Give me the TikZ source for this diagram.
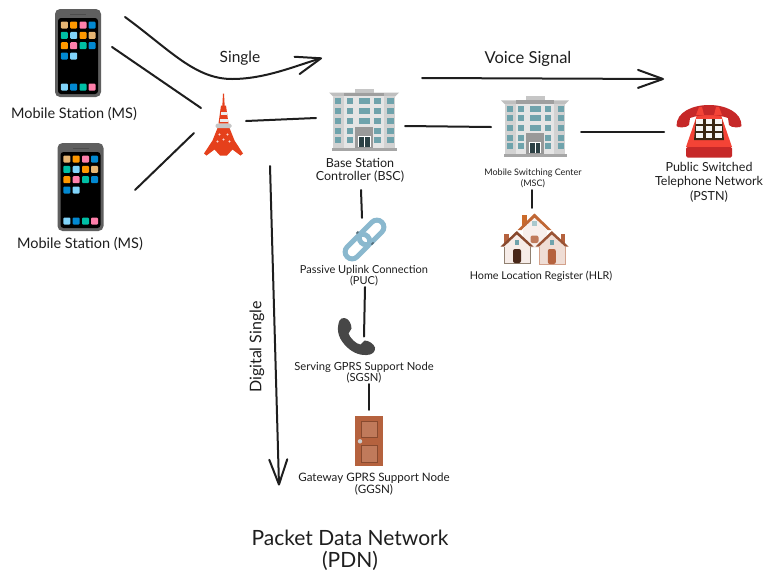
\documentclass[tikz,border=0pt]{standalone}
\usepackage{fontspec}
\setmainfont{Lato}
\usetikzlibrary{arrows.meta,positioning,calc}
\definecolor{inkblack}{HTML}{1E1E1E}
\definecolor{phonegray}{HTML}{5F5F5F}
\definecolor{apptan}{HTML}{E5B574}
\definecolor{apporange}{HTML}{FF9800}
\definecolor{apppink}{HTML}{FF80AB}
\definecolor{appblue}{HTML}{0288D1}
\definecolor{appteal}{HTML}{00BFA5}
\definecolor{applight}{HTML}{81D4FA}
\definecolor{towerred}{HTML}{E5401C}
\definecolor{windowteal}{HTML}{6FA3AC}
\definecolor{chainblue}{HTML}{8AB8CE}
\definecolor{doorbrown}{HTML}{B5623E}
\definecolor{phonered}{HTML}{F44336}
\definecolor{phonedark}{HTML}{C62828}
\tikzset{
  lbl/.style={draw=none,align=center,inner sep=0pt,text=inkblack},
  iconbox/.style={draw=none,inner sep=0pt,minimum width=#1},
  link/.style={draw=inkblack,line width=2pt,line cap=round},
  flow/.style={link,-{Straight Barb[length=25pt,width=18pt,round]}},
  phoneicon/.pic={
    \fill[phonegray,rounded corners=5pt] (-23,-44) rectangle (23,44);
    \fill[black,rounded corners=3pt] (-20,-35) rectangle (20,41);
    \fill[black!70] (-8,-39.5) rectangle (8,-38);
    \foreach \cx/\cy/\cc in {-13.7/-28/apptan,-4.3/-28/apporange,5/-28/apppink,14/-28/appblue,
      -13.7/-17.7/appteal,-4.3/-17.7/applight,5/-17.7/apporange,14/-17.7/apptan,
      -13.7/-7.3/apporange,-4.3/-7.3/apppink,5/-7.3/appteal,14/-7.3/appblue,
      -13.7/3/appblue,-4.3/3/applight,
      -13.7/34/applight,-4.3/34/appblue,5/34/appteal,14/34/apppink}
      \fill[\cc,rounded corners=1pt] (\cx-3.5,\cy-3.5) rectangle (\cx+3.5,\cy+3.5);
  },
  towericon/.pic={
    \fill[towerred] (-0.5,-31) -- (0.5,-31) -- (1.2,-18) -- (-1.2,-18) -- cycle;
    \fill[towerred] (-2.5,-19) -- (2.5,-19) -- (5,-1) -- (-5,-1) -- cycle;
    \fill[white!85!gray] (-3,-13) rectangle (3,-10);
    \fill[white!85!gray] (-4,-6) rectangle (4,-3);
    \fill[towerred] (-6,3.5) -- (6,3.5) -- (11,16) -- (19.5,29) -- (17,31) -- (9,25) -- (3.5,31)
      -- (-3.5,31) -- (-9,25) -- (-17,31) -- (-19.5,29) -- (-11,16) -- (-6,3.5) -- cycle;
    \fill[gray!45,rounded corners=1.5pt] (-8,-1) rectangle (8,3.5);
    \foreach \cx/\cy in {-4/10,4/10,-6/17,6/17,0/15}
      \fill[white!80!towerred] (\cx,\cy) circle (1.1);
  },
  buildingicon/.pic={
    \fill[gray!45] (-9,-31) rectangle (10,-27);
    \fill[gray!50] (-35,-27) -- (35,-27) -- (31,-23) -- (-31,-23) -- cycle;
    \fill[gray!75] (-20,-27) rectangle (20,-23.5);
    \fill[gray!35] (-31,-23) rectangle (31,28);
    \fill[gray!20] (-20,-23.5) rectangle (20,28);
    \foreach \cy in {-18.5,-8.5,1.5,11.5,20.5}
      \foreach \cx in {-26,-14,13.5,26.5}
        \fill[windowteal] (\cx-3.1,\cy-3.1) rectangle (\cx+3.1,\cy+3.1);
    \foreach \cy in {-18.5,-8.5,1.5}
      \fill[windowteal] (-5,\cy-3.1) rectangle (6,\cy+3.1);
    \fill[gray!80] (-9,7) rectangle (9,28);
    \fill[white] (-6,16) rectangle (6.5,27);
    \fill[black!60!windowteal] (-5,17) rectangle (0,27);
    \fill[black!60!windowteal] (1,17) rectangle (5.5,27);
    \fill[gray!70] (-32,28) rectangle (33,31.5);
  },
  chainicon/.pic={
    \draw[chainblue,line width=5pt,rounded corners=7pt,rotate=45] (-24.5,-7) rectangle (4.5,7);
    \draw[chainblue,line width=5pt,rounded corners=7pt,rotate=45] (-4.5,-7) rectangle (24.5,7);
    \draw[black!40!chainblue,line width=1.5pt] (-8,-6) -- (-6,-8);
    \draw[black!40!chainblue,line width=1.5pt] (7,5) -- (9,3);
  },
  housesicon/.pic={
    % back house
    \fill[doorbrown!70!orange] (-12.7,-24) rectangle (-7.7,-13);
    \fill[doorbrown!10!white] (-12,-9) rectangle (12,9);
    \fill[doorbrown!85!orange] (0,-25.5) -- (17,-9) -- (13,-9) -- (0,-21) -- (-13,-9) -- (-17,-9) -- cycle;
    \fill[doorbrown!10!white] (0,-21) -- (13,-9) -- (-13,-9) -- cycle;
    \fill[windowteal!60!white] (-2.5,-18) rectangle (2.5,-13);
    \fill[doorbrown!85!white,rounded corners=2pt] (-4,-3.5) rectangle (4,4);
    % left house
    \fill[doorbrown] (-30.3,-5) rectangle (-26,4.5);
    \fill[doorbrown!12!white] (-17.7,-5) -- (-30,7.5) -- (-30,24.5) -- (-4.5,24.5) -- (-4.5,7.5) -- cycle;
    \draw[gray!75!brown,line width=1pt] (-30,8) -- (-30,24.5) -- (-4.5,24.5) -- (-4.5,8);
    \fill[black!25!doorbrown] (-17.7,-8) -- (-1,7.5) -- (-4.5,7.5) -- (-17.7,-4.5) -- (-30.5,7.5) -- (-34,7.5) -- cycle;
    \fill[windowteal] (-20,1) rectangle (-15.5,6);
    \fill[black!60!doorbrown,rounded corners=2pt] (-21.5,10) rectangle (-13.5,24);
    % right house
    \fill[doorbrown] (26,-5) rectangle (30.5,4.5);
    \fill[doorbrown!22!white] (17.3,-5) -- (4.5,7.5) -- (4.5,25.5) -- (30.5,25.5) -- (30.5,7.5) -- cycle;
    \draw[doorbrown!60!white,line width=1pt] (4.5,8) -- (4.5,25.5) -- (30.5,25.5) -- (30.5,8);
    \fill[doorbrown!85!black] (17.3,-8) -- (34,7.5) -- (30.5,7.5) -- (17.3,-4.5) -- (4.5,7.5) -- (1,7.5) -- cycle;
    \fill[windowteal] (15,1) rectangle (19.5,6);
    \fill[doorbrown,rounded corners=2pt] (13.3,10) rectangle (21.3,25);
  },
  handseticon/.pic={
    \fill[black!72] (-17,-16) .. controls (-20,-8) and (-19,0) .. (-12,8)
      .. controls (-6,15) and (2,19) .. (10,18.5) .. controls (16,18.5) and (19,15) .. (18.5,11)
      .. controls (17,7) and (12,4) .. (8,4) -- (4,8) .. controls (0,8) and (-7,1) .. (-8,-3)
      -- (-5,-8) .. controls (-5,-13) and (-8,-18) .. (-12,-18.5) .. controls (-14,-18.5) and (-16,-18) .. (-17,-16) -- cycle;
  },
  dooricon/.pic={
    \fill[doorbrown] (-14,-25) rectangle (14,25);
    \filldraw[doorbrown!85!white,draw=black!25!doorbrown,line width=0.8pt] (-8,-20) rectangle (8.3,-3.3);
    \filldraw[doorbrown!85!white,draw=black!25!doorbrown,line width=0.8pt] (-8,4.3) rectangle (8.3,21);
    \fill[gray!40] (-9,0.3) circle (2.2);
  },
  telephoneicon/.pic={
    \fill[phonered] (-12,-14) -- (12,-14) -- (23,18) -- (-23,18) -- cycle;
    \fill[phonedark,rounded corners=1.5pt] (-23,18) rectangle (23,28.5);
    \fill[phonedark] (-32.5,-3) .. controls (-33,-31) and (33,-31) .. (32.5,-3)
      .. controls (32,-1) and (22,-1) .. (20,-4) -- (19,-11) .. controls (8,-15) and (-8,-15) .. (-19,-11)
      -- (-20,-4) .. controls (-22,-1) and (-32,-1) .. (-32.5,-3) -- cycle;
    \fill[phonered] (-10,-22) -- (-7,-22) -- (-5,-14) -- (-13,-14) -- cycle;
    \fill[phonered] (7,-22) -- (10,-22) -- (13,-14) -- (5,-14) -- cycle;
    \fill[black!70!brown] (-13,-10) -- (13,-10) -- (15,11) -- (-15,11) -- cycle;
    \foreach \cx in {-9.5,0,9.5}
      \foreach \cy in {-7.3,-0.7,6.7}
        \fill[white!92!gray] (\cx-3.4,\cy-2.5) rectangle (\cx+3.4,\cy+2.5);
  }
}

\begin{document}
\begin{tikzpicture}[x=1pt,y=-1pt]
\useasboundingbox (0,0) rectangle (773,584);
\fill[white] (0,0) rectangle (773,584);

% Icons
\node[iconbox=46,minimum height=88] (ms1) at (78,53) {};
\pic at (ms1) {phoneicon};
\node[iconbox=46,minimum height=88] (ms2) at (80.5,187) {};
\pic at (ms2) {phoneicon};
\node[iconbox=39,minimum height=63] (tower) at (223.5,124.5) {};
\pic at (tower) {towericon};
\node[iconbox=70,minimum height=63] (bsc) at (364,119.5) {};
\pic at (bsc) {buildingicon};
\node[iconbox=68,minimum height=61] (msc) at (535,126.5) {};
\pic[scale=0.97] at (msc) {buildingicon};
\node[iconbox=65,minimum height=56] (pstn) at (709,129) {};
\pic at (pstn) {telephoneicon};
\node[iconbox=43,minimum height=43] (puc) at (364.5,239.5) {};
\pic at (puc) {chainicon};
\node[iconbox=69,minimum height=52] (hlr) at (534.5,239) {};
\pic at (hlr) {housesicon};
\node[iconbox=37,minimum height=37] (sgsn) at (356.5,336.5) {};
\pic at (sgsn) {handseticon};
\node[iconbox=28,minimum height=50] (ggsn) at (369,441) {};
\pic at (ggsn) {dooricon};

% Labels
\node[lbl,font=\fontsize{14.5}{16}\selectfont] (mslabela) at (74,114) {Mobile Station (MS)};
\node[lbl,font=\fontsize{14.5}{16}\selectfont] (mslabelb) at (80,244) {Mobile Station (MS)};
\node[lbl,font=\fontsize{12.5}{13}\selectfont] (bsclabel) at (360,170) {Base Station\\Controller (BSC)};
\node[lbl,font=\fontsize{9}{11}\selectfont] (msclabel) at (533,178) {Mobile Switching Center\\(MSC)};
\node[lbl,font=\fontsize{12.5}{14.5}\selectfont] (pstnlabel) at (709,182) {Public Switched\\Telephone Network\\(PSTN)};
\node[lbl,font=\fontsize{11}{11}\selectfont] (puclabel) at (364,276) {Passive Uplink Connection\\(PUC)};
\node[lbl,font=\fontsize{10.8}{11}\selectfont] (hlrlabel) at (541,276) {Home Location Register (HLR)};
\node[lbl,font=\fontsize{11.2}{11}\selectfont] (sgsnlabel) at (364,373) {Serving GPRS Support Node\\(SGSN)};
\node[lbl,font=\fontsize{11.6}{12}\selectfont] (ggsnlabel) at (374,484) {Gateway GPRS Support Node\\(GGSN)};
\node[lbl,font=\fontsize{21}{22}\selectfont] (pdn) at (350,550) {Packet Data Network\\(PDN)};
\node[lbl,font=\fontsize{15.5}{17}\selectfont] (singlelabel) at (240,58) {Single};
\node[lbl,font=\fontsize{16.5}{17}\selectfont] (voicelabel) at (528,59) {Voice Signal};
\node[lbl,rotate=90,font=\fontsize{16}{17}\selectfont] (digitallabel) at (257,347) {Digital Single};

% Signal arrows
\draw[flow] ([shift={(47,-36)}]ms1.center) .. controls +(45,33) and +(-37,0) .. ([shift={(8.5,-45.5)}]tower.center)
  .. controls +(33,0) and +(-27,8) .. ([shift={(-42,-61.5)}]bsc.center);
\coordinate (voicestart) at (422,78);
\coordinate (voiceend) at (664,79);
\draw[flow] (voicestart) -- (voiceend);
\draw[flow] ([shift={(46.5,41.5)}]tower.center) -- ([shift={(-90,44.5)}]ggsn.center);

% Links
\draw[link] ([shift={(34,-6)}]ms1.center) -- ([shift={(-22.5,-16.5)}]tower.center);
\draw[link] ([shift={(54.5,3)}]ms2.center) -- ([shift={(-29.5,8.5)}]tower.center);
\draw[link] ([shift={(22.5,-3.5)}]tower.center) -- ([shift={(-48,-1.5)}]bsc.center);
\draw[link] ([shift={(41,6.5)}]bsc.center) -- ([shift={(-44,0.5)}]msc.center);
\draw[link] ([shift={(46,5.5)}]msc.center) -- ([shift={(-45,3)}]pstn.center);
\draw[link] ([shift={(1,20)}]bsclabel.center) -- ([shift={(-2.5,0)}]puc.north);
\draw[link] ([shift={(-1,12)}]msclabel.center) -- ([shift={(-2.5,-5)}]hlr.north);
\draw[link] ([shift={(1,11)}]puclabel.center) -- ([shift={(7.5,0)}]sgsn.center);
\draw[link] ([shift={(5,11)}]sgsnlabel.center) -- ([shift={(0,-6)}]ggsn.north);

\end{tikzpicture}
\end{document}
